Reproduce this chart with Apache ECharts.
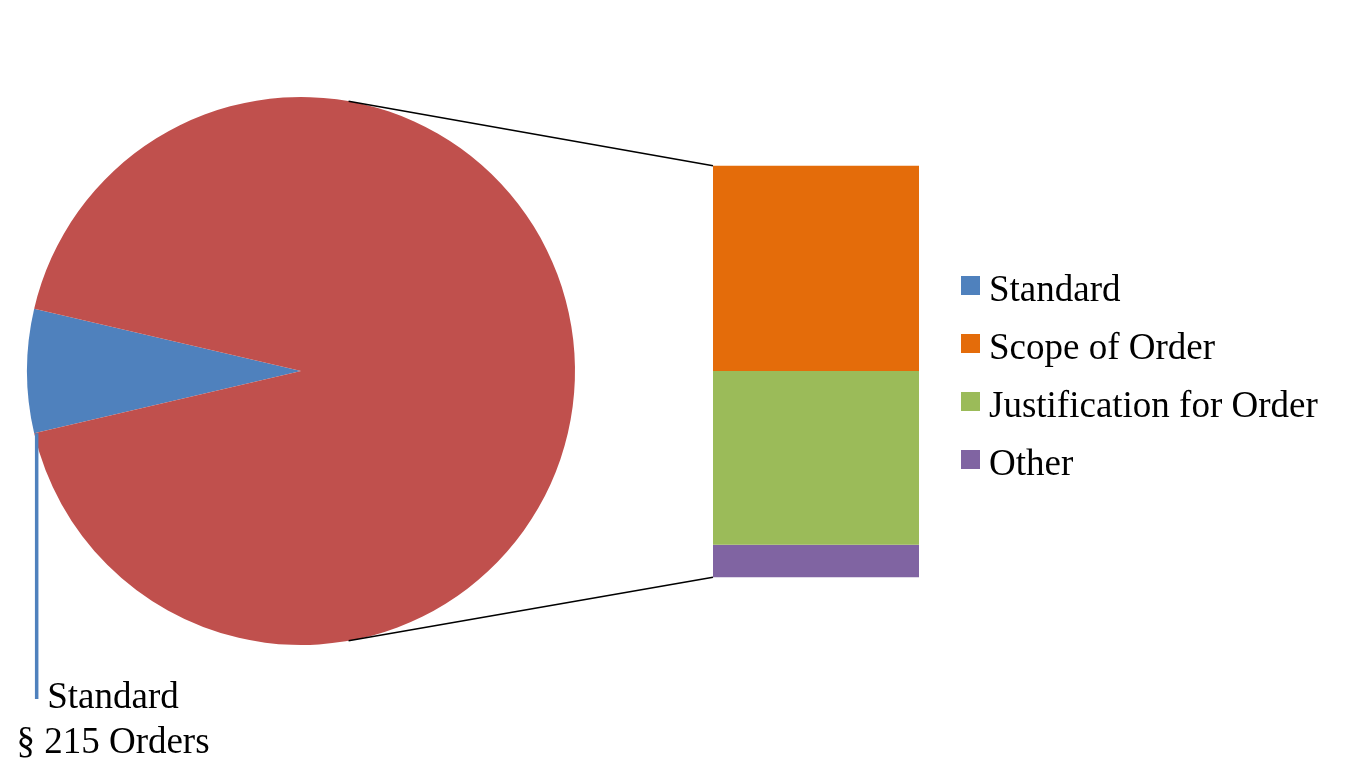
<!DOCTYPE html>
<html>
<head>
<meta charset="utf-8">
<script src="https://cdn.jsdelivr.net/npm/echarts@6/dist/echarts.min.js"></script>
<style>html,body{margin:0;padding:0;background:#fff;}#c{width:1350px;height:770px;}</style>
</head>
<body>
<div id="c"></div>
<script>
// ---- data ----
var pieNames = ['Standard', 'Non-Standard'];
var pieValues = [7.3, 92.7];
var pieSeriesName = '§ 215 Orders';
var barCategories = ['Non-Standard'];
var barNames = ['Other', 'Justification for Order', 'Scope of Order']; // bottom to top
var barValues = [7.9, 42.2, 49.9];
var legendNames = ['Standard', 'Scope of Order', 'Justification for Order', 'Other'];

// ---- layout & style ----
var FONT = '"Liberation Serif","Times New Roman",serif';
var colors = {
  'Standard': '#4F81BD', 'Non-Standard': '#C0504D',
  'Scope of Order': '#E46C0A', 'Justification for Order': '#9BBB59', 'Other': '#8064A2'
};
var CX = 301, CY = 371, R = 274;
var GRID = {left: 713, top: 165.7, width: 206, height: 411.6};

var total = pieValues.reduce(function(a, b){ return a + b; }, 0);
var blueSpan = pieValues[0] / total * 360;
var startAngle = 180 + blueSpan / 2;
var barTotal = barValues.reduce(function(a, b){ return a + b; }, 0);

function pt(angDeg) {
  var a = angDeg * Math.PI / 180;
  return [CX + R * Math.cos(a), CY - R * Math.sin(a)];
}
var lowerVertex = pt(startAngle);
var topConn = pt(80), botConn = pt(-80);

var chart = echarts.init(document.getElementById('c'), null, {renderer: 'canvas'});
var series = [{
  type: 'pie',
  name: pieSeriesName,
  center: [CX, CY],
  radius: R,
  startAngle: startAngle,
  clockwise: true,
  silent: true,
  label: {show: false},
  labelLine: {show: false},
  itemStyle: {borderWidth: 0},
  emphasis: {disabled: true},
  data: pieNames.map(function(n, i){ return {name: n, value: pieValues[i], itemStyle: {color: colors[n]}}; })
}];
barNames.forEach(function(n, i){
  series.push({
    type: 'bar', name: n, stack: 'b', barWidth: '100%',
    silent: true,
    itemStyle: {color: colors[n]},
    data: [barValues[i]]
  });
});

chart.setOption({
  animation: false,
  backgroundColor: '#fff',
  grid: {left: GRID.left, top: GRID.top, width: GRID.width, height: GRID.height, containLabel: false},
  xAxis: {type: 'category', data: barCategories, show: false},
  yAxis: {type: 'value', min: 0, max: barTotal, show: false},
  legend: {
    orient: 'vertical', left: 961, top: 261, padding: 0,
    itemWidth: 19, itemHeight: 19, itemGap: 9,
    icon: 'rect',
    selectedMode: false,
    data: legendNames,
    formatter: function(name){ return '{t|' + name + '}'; },
    textStyle: {
      fontFamily: FONT, fontSize: 37, color: '#000',
      rich: {t: {fontFamily: FONT, fontSize: 37, color: '#000', lineHeight: 37, padding: [12, 0, 0, 4]}}
    }
  },
  series: series,
  graphic: [
    {type: 'line', shape: {x1: topConn[0], y1: topConn[1], x2: GRID.left, y2: GRID.top}, style: {stroke: '#000', lineWidth: 1.5}, z: 10},
    {type: 'line', shape: {x1: botConn[0], y1: botConn[1], x2: GRID.left, y2: GRID.top + GRID.height}, style: {stroke: '#000', lineWidth: 1.5}, z: 10},
    {type: 'line', shape: {x1: lowerVertex[0] + 2.5, y1: lowerVertex[1], x2: lowerVertex[0] + 2.5, y2: 699}, style: {stroke: colors['Standard'], lineWidth: 3.5}, z: 10},
    {type: 'text', x: 113, y: 676, z: 10, style: {
      text: pieNames[0] + '\n' + pieSeriesName, font: '37px ' + FONT, fill: '#000',
      textAlign: 'center', textVerticalAlign: 'top', lineHeight: 45
    }}
  ]
});
</script>
</body>
</html>
